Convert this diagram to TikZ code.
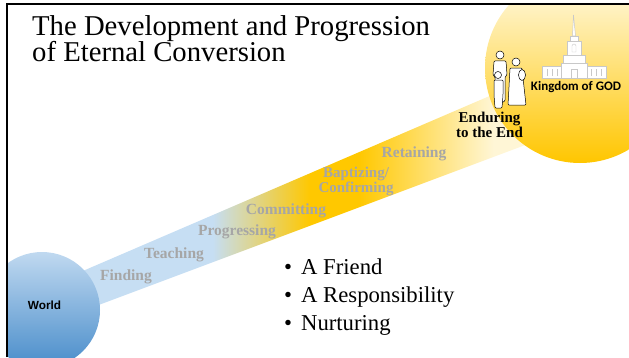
\documentclass[tikz,border=0pt]{standalone}
\usepackage{fontspec}
\setmainfont{Liberation Serif}
\newfontfamily\worldfont{Liberation Sans}
\newfontfamily\kingfont{Carlito}
\usetikzlibrary{calc}

\definecolor{worldtop}{RGB}{192,217,240}
\definecolor{worldbot}{RGB}{72,140,202}
\definecolor{bandblue}{RGB}{198,222,243}
\definecolor{bandgold}{RGB}{255,200,0}
\definecolor{bandpale}{RGB}{255,246,214}
\definecolor{kingtop}{RGB}{255,251,235}
\definecolor{kinggold}{RGB}{255,198,0}
\definecolor{stagegray}{RGB}{166,166,166}
\definecolor{templeline}{RGB}{200,200,200}

\pgfdeclarehorizontalshading{bandfade}{100bp}{color(0bp)=(bandblue); color(41bp)=(bandblue); color(50bp)=(bandgold); color(54.5bp)=(bandgold); color(67bp)=(bandpale); color(100bp)=(bandpale)}

\tikzset{
  titletext/.style={anchor=base west, inner sep=0pt, font=\fontsize{28.7}{26}\selectfont},
  stagetext/.style={anchor=base, inner sep=0pt, text=stagegray, font=\bfseries\fontsize{15.5}{12}\selectfont},
  twolines/.style={anchor=center, align=center, font=\bfseries\fontsize{15}{14.2}\selectfont},
  endtext/.style={stagetext, text=black},
  bullettext/.style={anchor=base west, inner sep=0pt, font=\fontsize{22.7}{27}\selectfont},
  temple/.style={draw=templeline, fill=white, line width=0.5pt},
  person/.style={draw=black, fill=white, line width=0.5pt, rounded corners=1pt}
}

\begin{document}
\begin{tikzpicture}[x=1pt, y=1pt]
            \useasboundingbox (0,0) rectangle (629,357);
            \coordinate (worldc) at (42,47);
            \coordinate (kingc) at (580,289);

            \begin{scope}
                \clip (7,0) rectangle (629,353);
                % band from world to kingdom
                \shade[shading=bandfade] ($(worldc)+(-2,-17)$) -- ($(kingc)+(0,-56.5)$)
                    -- ($(kingc)+(0,10.9)$) -- ($(worldc)+(-2,20.6)$) -- cycle;
                % circles
                \node[circle, minimum size=116pt, inner sep=0pt, top color=worldtop, bottom color=worldbot] (world) at (worldc) {};
                \node[circle, minimum size=190pt, inner sep=0pt, top color=kingtop, bottom color=kinggold] (kingdom) at (kingc) {};
            \end{scope}

            % temple
            \draw[temple] (542,279) rectangle (606,291);
            \foreach \x in {547,552,557,591,596,601}
                \draw[templeline, line width=0.6pt] (\x,281) -- (\x,288);
            \draw[temple] (561,279) rectangle (587,294);
            \draw[temple] (571,279) rectangle (577,288);
            \draw[temple] (563,294) rectangle (585,302);
            \draw[temple] (567,302) rectangle (581,316);
            \draw[templeline] (572,305) -- (572,311) arc (180:0:2) -- (576,305) -- cycle;
            \draw[temple] (570,316) rectangle (578,321);
            \draw[temple] (572.5,321) -- (573.5,342) -- (575.5,321) -- cycle;

            % family
            \draw[person] (494,296) -- (506,296) -- (507,282) -- (505,280) -- (505,256) -- (501,254)
                -- (500,268) -- (498,254) -- (495,256) -- (495,280) -- (493,282) -- cycle;
            \draw[person] (500,302) circle (4);
            \draw[person] (510,289) -- (522,289) -- (524,270) -- (526,252) -- (508,252) -- (509,270) -- cycle;
            \draw[person] (516,295) circle (4);
            \draw[person] (522,282) ellipse (3.5 and 5.5);
            \draw[person] (494,277) -- (503,277) -- (503,262) -- (502,249) -- (495,249) -- (494,262) -- cycle;
            \draw[person] (498,282) circle (3.5);

            % frame
            \draw[line width=2pt] (7,0) -- (7,353) -- (629,353);

            % title
            \node[titletext] (titletop) at (32,321) {The Development and Progression};
            \node[titletext] (titlebottom) at (32,295) {of Eternal Conversion};

            % circle labels
            \node[font=\worldfont\bfseries\fontsize{11.8}{14}\selectfont] (worldlabel) at (44.5,52) {World};
            \node[font=\kingfont\bfseries\fontsize{13}{15}\selectfont] (kinglabel) at (576,270) {Kingdom of GOD};

            % stages along the band
            \node[stagetext] (finding) at (126,77) {Finding};
            \node[stagetext] (teaching) at (174,99) {Teaching};
            \node[stagetext] (progressing) at (237,122) {Progressing};
            \node[stagetext] (committing) at (286,143) {Committing};
            \node[stagetext, twolines] (baptizing) at (356,175.6) {Baptizing/\\Confirming};
            \node[stagetext] (retaining) at (414,200) {Retaining};
            \node[endtext, twolines] (enduring) at (489.5,232.1) {Enduring\\to the End};

            % bullets
            \node[bullettext] (friend) at (284,83) {\textbullet\hspace{9pt}A Friend};
            \node[bullettext] (duty) at (284,55) {\textbullet\hspace{9pt}A Responsibility};
            \node[bullettext] (nurture) at (284,27) {\textbullet\hspace{9pt}Nurturing};
\end{tikzpicture}
\end{document}
